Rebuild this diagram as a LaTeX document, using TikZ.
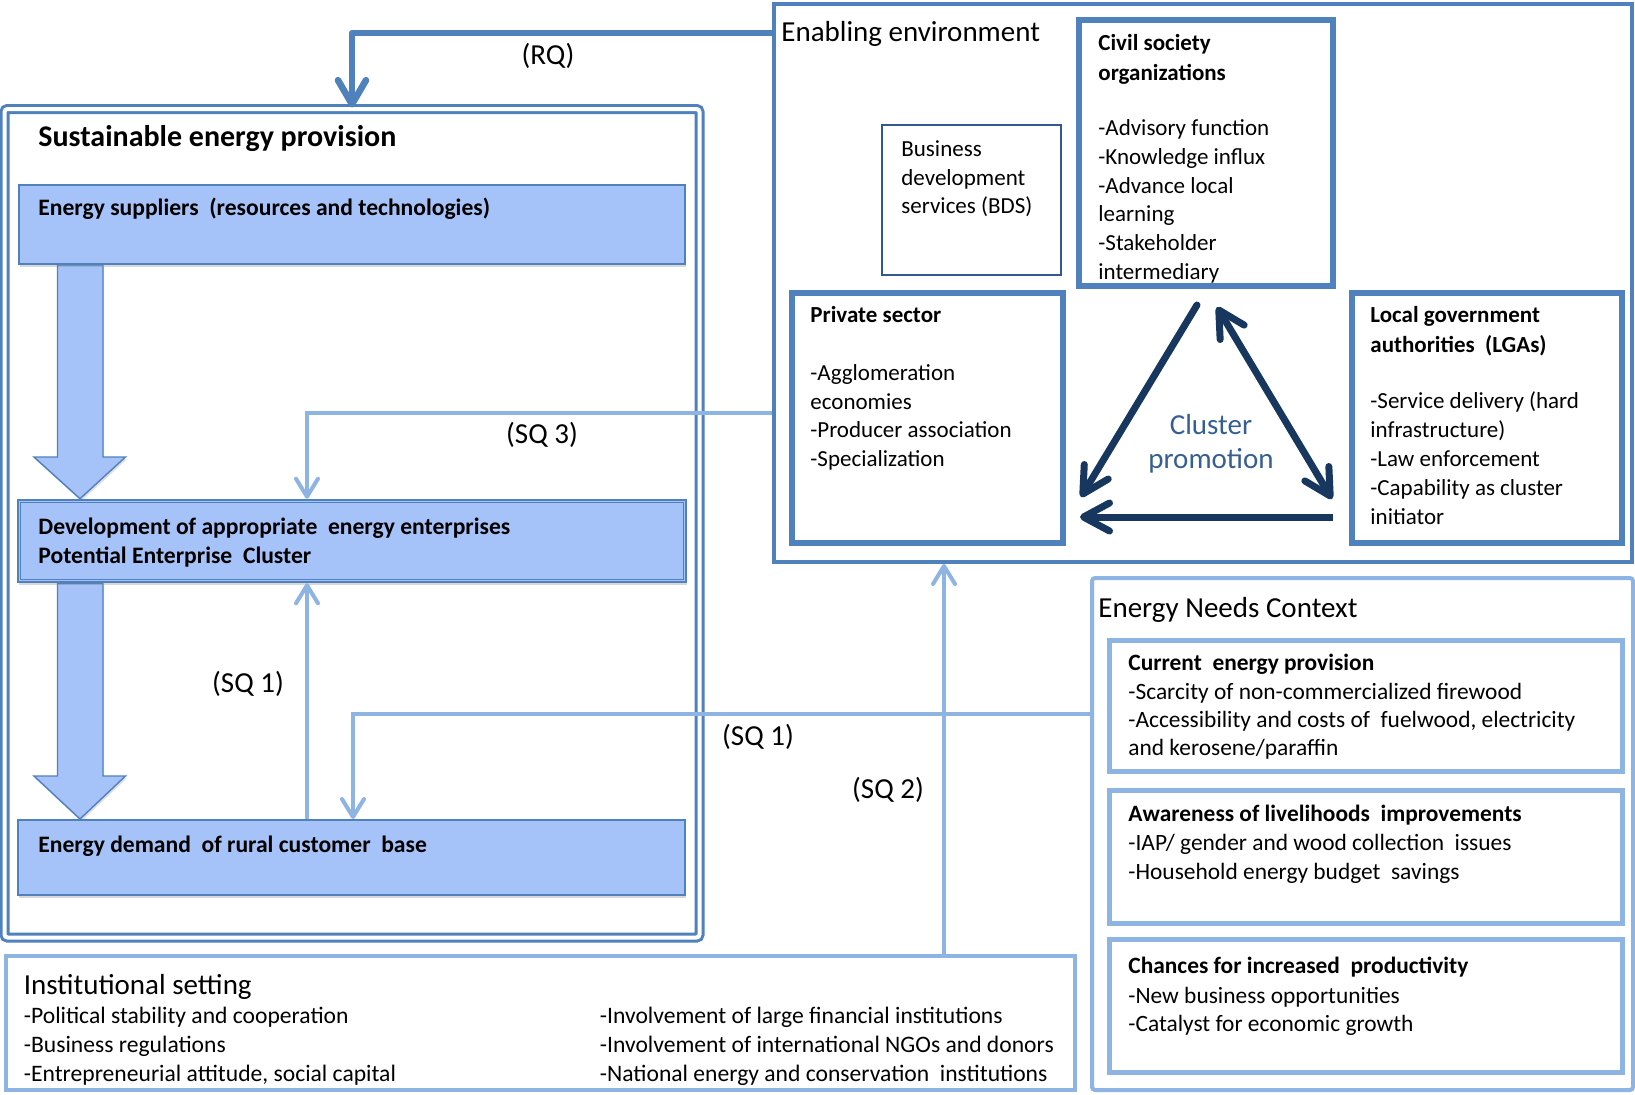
\documentclass[tikz,border=0pt]{standalone}
\usepackage{fontspec}
\setmainfont{Carlito}
\usetikzlibrary{arrows.meta,fit,shadows,backgrounds}
\definecolor{dblue}{HTML}{4F81BD}
\definecolor{lblue}{HTML}{8DB4E2}
\definecolor{fillb}{HTML}{A5C3F8}
\definecolor{navy}{HTML}{17375E}
\definecolor{cpblue}{HTML}{365F91}
\definecolor{bdsline}{HTML}{2F5A8F}
\begin{document}
\begin{tikzpicture}[x=0.5pt,y=-0.5pt,
  area/.style={inner sep=0pt},
  lbox/.style={area, fill=fillb, draw=dblue, line width=1pt,
     drop shadow={opacity=0.3, shadow xshift=0.6pt, shadow yshift=-1.6pt}},
  ebox/.style={area, draw=dblue, line width=2.75pt},
  nbox/.style={area, draw=lblue, line width=2.5pt},
  body/.style={inner sep=0pt, anchor=west, text height=7.4pt, text depth=0pt, font=\fontsize{11.5}{14}\selectfont},
  bodyb/.style={body, font=\fontsize{11.5}{14}\selectfont\bfseries},
  leftb/.style={body, text height=7.6pt, font=\fontsize{11.8}{14}\selectfont\bfseries},
  needs/.style={body, font=\fontsize{11.7}{14}\selectfont},
  needsb/.style={body, font=\fontsize{11.7}{14}\selectfont\bfseries},
  inst/.style={body, font=\fontsize{11.8}{14}\selectfont},
  sect/.style={inner sep=0pt, anchor=west, text height=9.3pt, text depth=0pt, font=\fontsize{14.5}{17}\selectfont},
  lab/.style={inner sep=0pt, text height=9.3pt, text depth=0pt, font=\fontsize{14.5}{17}\selectfont},
  lconn/.style={draw=lblue, line width=2pt, -{Straight Barb[length=9pt,width=11pt,round]}},
  tri/.style={draw=navy, line width=3.5pt, line cap=round},
  barrow/.style={fill=fillb, draw=dblue, line width=0.7pt,
     drop shadow={opacity=0.25, shadow xshift=0.6pt, shadow yshift=-1.2pt}}
]
\useasboundingbox (0,0) rectangle (1635,1094);

% ---------------- Sustainable energy provision ----------------
\node[area, fit={(4.5,109) (699.5,937.5)}, draw=dblue, line width=1.5pt,
      double=white, double distance=2pt, rounded corners=1.5pt] (sep) {};
\node[sect, text height=9.6pt, font=\fontsize{15}{17}\selectfont\bfseries] (septitle) at (38,137) {Sustainable energy provision};

\node[lbox, fit={(19,185) (685,264)}] (esup) {};
\node[leftb] (esupt) at (38,208) {Energy suppliers \ (resources and technologies)};

\node[lbox, line width=1.3pt, fit={(18,500) (686,582)}] (dev) {};
\draw[dblue, line width=0.5pt] ([shift={(4,4)}]dev.north west) rectangle ([shift={(-4,-4)}]dev.south east);
\node[leftb] (devt1) at (38,527) {Development of appropriate \ energy enterprises};
\node[leftb] (devt2) at (38,556) {Potential Enterprise \ Cluster};

\node[lbox, fit={(18,820) (685,895)}] (edem) {};
\node[leftb] (edemt) at (38,845) {Energy demand \ of rural customer \ base};

\begin{scope}[on background layer]
\fill[white] (0,0) rectangle (1635,1094);
\filldraw[barrow] (57.5,0 |- esup.south) -- (57.5,457) -- (34,457) -- (80,0 |- dev.north)
   -- (125.5,457) -- (103,457) -- (103,0 |- esup.south) -- cycle;
\filldraw[barrow] (57.5,0 |- dev.south) -- (57.5,776) -- (34,776) -- (80,0 |- edem.north)
   -- (125.5,776) -- (103,776) -- (103,0 |- dev.south) -- cycle;
\end{scope}

% ---------------- Enabling environment ----------------
\node[area, fit={(774,4) (1632,562)}, draw=dblue, line width=2pt] (env) {};
\node[sect] (envt) at (781,32) {Enabling environment};

\node[area, fit={(882,125) (1061,275)}, draw=bdsline, line width=1pt] (bds) {};
\node[body] (bds1) at (901,149) {Business};
\node[body] (bds2) at (901,178) {development};
\node[body] (bds3) at (901,206.5) {services (BDS)};

\node[ebox, fit={(1079,20) (1333,286)}] (civ) {};
\node[bodyb] (civt1) at (1098,43) {Civil society};
\node[bodyb] (civt2) at (1098,73) {organizations};
\foreach \t [count=\i] in {-Advisory function, -Knowledge influx, -Advance local, learning, -Stakeholder, intermediary}
  \node[body] (civi\i) at (1098,{128+28.8*(\i-1)}) {\t};

\node[ebox, fit={(792,293) (1063,543)}] (priv) {};
\node[bodyb] (privt) at (810,315) {Private sector};
\foreach \t [count=\i] in {-Agglomeration, economies, -Producer association, -Specialization}
  \node[body] (privi\i) at (810,{373+28.7*(\i-1)}) {\t};

\node[ebox, fit={(1352,293) (1622,543)}] (lga) {};
\node[bodyb] (lgat1) at (1370,315) {Local government};
\node[bodyb] (lgat2) at (1370,345) {authorities \ (LGAs)};
\foreach \t [count=\i] in {-Service delivery (hard, infrastructure), -Law enforcement, -Capability as cluster, initiator}
  \node[body] (lgai\i) at (1370,{401+29*(\i-1)}) {\t};

% cluster promotion triangle
\coordinate (tA1) at (1197,305);
\coordinate (tB1) at (1081,497);
\coordinate (tA2) at (1217,307);
\coordinate (tC2) at (1332,499);
\coordinate (tC3) at (1333,517);
\coordinate (tB3) at (1080,517);
\draw[tri, -{Straight Barb[length=13pt,width=14pt,round]}] (tA1) -- (tB1);
\draw[tri, {Straight Barb[length=13pt,width=14pt,round]}-{Straight Barb[length=13pt,width=14pt,round]}] (tA2) -- (tC2);
\draw[tri, line cap=butt, -{Straight Barb[length=13pt,width=14pt,round]}] (tC3) -- (tB3);
\node[lab, text=cpblue] (cp1) at (1211,425) {Cluster};
\node[lab, text=cpblue] (cp2) at (1211,459) {promotion};

% ---------------- Energy Needs Context ----------------
\node[area, fit={(1092,578) (1633,1090)}, draw=lblue, line width=2pt, rounded corners=1.5pt] (enc) {};
\node[sect] (enct) at (1098,608) {Energy Needs Context};

\node[nbox, fit={(1109.5,640.5) (1622.5,771.5)}] (cur) {};
\node[needsb] (curt) at (1128,663) {Current \ energy provision};
\foreach \t [count=\i] in {-Scarcity of non-commercialized firewood, {-Accessibility and costs of \ fuelwood, electricity}, and kerosene/paraffin}
  \node[needs] (curi\i) at (1128,{692+28*(\i-1)}) {\t};

\node[nbox, fit={(1109.5,790.5) (1622.5,923.5)}] (aw) {};
\node[needsb] (awt) at (1128,814) {Awareness of livelihoods \ improvements};
\foreach \t [count=\i] in {-IAP/ gender and wood collection \ issues, -Household energy budget \ savings}
  \node[needs] (awi\i) at (1128,{843+29*(\i-1)}) {\t};

\node[nbox, fit={(1109.5,939.5) (1622.5,1072.5)}] (ch) {};
\node[needsb] (cht) at (1128,966) {Chances for increased \ productivity};
\foreach \t [count=\i] in {-New business opportunities, -Catalyst for economic growth}
  \node[needs] (chi\i) at (1128,{996+28*(\i-1)}) {\t};

% ---------------- Institutional setting ----------------
\node[area, fit={(6,956) (1075,1090)}, draw=lblue, line width=2pt] (inst) {};
\node[sect] (instt) at (23.5,985) {Institutional setting};
\foreach \t [count=\i] in {-Political stability and cooperation, -Business regulations, {-Entrepreneurial attitude, social capital}}
  \node[inst] (instl\i) at (23.5,{1016.5+28.7*(\i-1)}) {\t};
\foreach \t [count=\i] in {-Involvement of large financial institutions, -Involvement of international NGOs and donors, -National energy and conservation \ institutions}
  \node[inst] (instr\i) at (599.5,{1016.5+28.7*(\i-1)}) {\t};

% ---------------- Connectors ----------------
\draw[draw=dblue, line width=3.3pt, line join=round,
      -{Straight Barb[length=12pt,width=14pt,round]}]
  (env.west |- 0,33) -- (352,33) -- (352,0 |- sep.north);
\node[lab] (rq) at (548,55) {(RQ)};

\draw[lconn] (env.west |- 0,412.5) -- (307,412.5) -- (307,0 |- dev.north);
\node[lab] (sq3) at (542,434) {(SQ 3)};

\draw[lconn] (307,0 |- edem.north) -- (307,0 |- dev.south);
\node[lab] (sq1a) at (248,683) {(SQ 1)};

\draw[lconn] (enc.west |- 0,714) -- (353,714) -- (353,0 |- edem.north);
\node[lab] (sq1b) at (758,736) {(SQ 1)};

\draw[lconn] (944,0 |- inst.north) -- (944,0 |- env.south);
\node[lab] (sq2) at (888,789) {(SQ 2)};
\end{tikzpicture}
\end{document}
